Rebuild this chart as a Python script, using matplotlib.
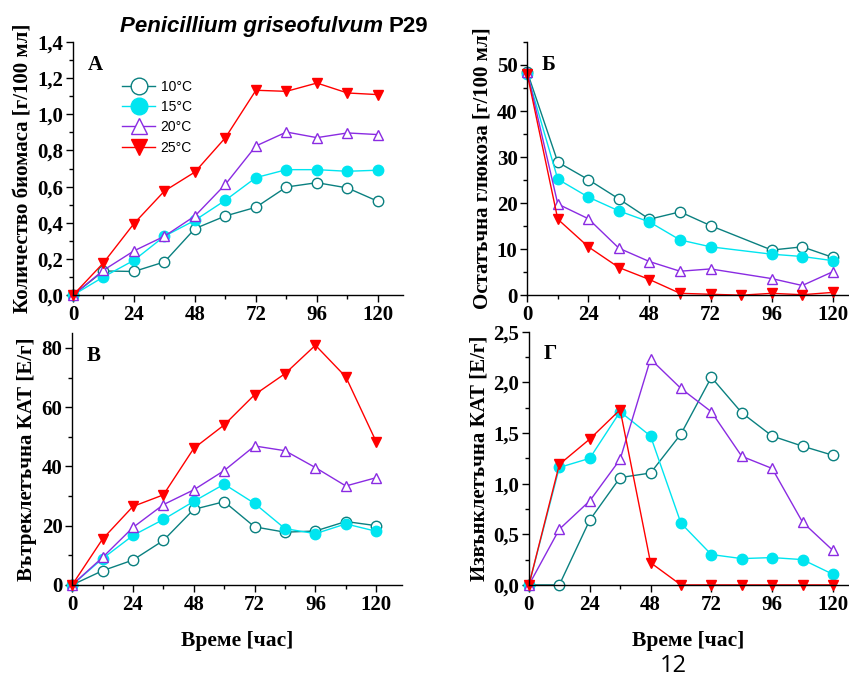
"""Four-panel growth / glucose / catalase chart for Penicillium griseofulvum P29."""

import matplotlib

matplotlib.use("Agg")
import matplotlib.pyplot as plt
from matplotlib.lines import Line2D
from matplotlib.ticker import FuncFormatter, MultipleLocator

SERIF = "Liberation Serif"
SANS = "Liberation Sans"

LABELS = ["10°C", "15°C", "20°C", "25°C"]
COLORS = ["#0a8080", "#00e5f0", "#8a2be2", "#ff0000"]
MARKERS = ["o", "o", "^", "v"]
FILLED = [False, True, False, True]

HOURS = [0, 12, 24, 36, 48, 60, 72, 84, 96, 108, 120]
HOURS_NO84 = [0, 12, 24, 36, 48, 60, 72, 96, 108, 120]

# A: biomass [g/100 ml]
biomass_10 = [0.0, 0.134, 0.131, 0.184, 0.368, 0.438, 0.486, 0.598, 0.622, 0.593, 0.519]
biomass_15 = [0.0, 0.101, 0.193, 0.326, 0.414, 0.525, 0.650, 0.694, 0.694, 0.685, 0.691]
biomass_20 = [0.0, 0.138, 0.245, 0.326, 0.438, 0.613, 0.825, 0.902, 0.871, 0.897, 0.888]
biomass_25 = [0.0, 0.179, 0.396, 0.576, 0.681, 0.871, 1.133, 1.127, 1.173, 1.118, 1.109]

# B: residual glucose [g/100 ml]
glucose_10 = [48.5, 28.9, 25.1, 20.9, 16.5, 18.1, 15.1, 9.8, 10.5, 8.2]
glucose_15 = [48.0, 25.2, 21.3, 18.3, 15.9, 12.0, 10.5, 8.9, 8.4, 7.5]
glucose_20 = [48.5, 19.8, 16.6, 10.2, 7.3, 5.2, 5.7, 3.6, 2.1, 5.1]
glucose_25 = [48.0, 16.5, 10.5, 6.0, 3.4, 0.4, 0.2, 0.0, 0.4, 0.1, 0.6]

# C: intracellular catalase [U/g]
intra_10 = [0.0, 4.8, 8.4, 15.0, 25.5, 28.1, 19.6, 17.8, 18.2, 21.4, 20.0]
intra_15 = [0.0, 8.9, 16.7, 22.1, 28.2, 34.0, 27.5, 19.0, 17.3, 20.6, 18.1]
intra_20 = [0.0, 9.3, 19.4, 27.1, 32.1, 38.6, 46.9, 45.3, 39.6, 33.4, 36.2]
intra_25 = [0.0, 15.5, 26.5, 30.4, 46.1, 54.0, 64.2, 71.3, 80.9, 70.2, 48.3]

# D: extracellular catalase [U/g]
extra_10 = [0.0, 0.0, 0.64, 1.06, 1.105, 1.49, 2.05, 1.70, 1.47, 1.37, 1.28]
extra_15 = [0.0, 1.16, 1.25, 1.71, 1.47, 0.61, 0.30, 0.26, 0.27, 0.25, 0.105]
extra_20 = [0.0, 0.55, 0.83, 1.24, 2.23, 1.94, 1.71, 1.27, 1.15, 0.62, 0.34]
extra_25 = [0.0, 1.19, 1.44, 1.73, 0.22, 0.0, 0.0, 0.0, 0.0, 0.0, 0.0]


def comma_fmt(decimals):
    return FuncFormatter(lambda v, _: f"{v:.{decimals}f}".replace(".", ","))


def draw_series(ax, xs_list, ys_list):
    for xs, ys, color, marker, filled in zip(xs_list, ys_list, COLORS, MARKERS, FILLED):
        ax.plot(
            xs, ys, color=color, lw=1.0, marker=marker, ms=7.5,
            mfc=color if filled else "white", mec=color, mew=1.0, clip_on=False,
        )


def style_axes(ax, ylim, ymajor, yminor, ydec, ylabel, letter, xmax=130, xlabel=None):
    ax.set_xlim(0, xmax)
    ax.set_ylim(*ylim)
    ax.spines["top"].set_visible(False)
    ax.spines["right"].set_visible(False)
    for s in ("left", "bottom"):
        ax.spines[s].set_linewidth(1.0)
    ax.xaxis.set_major_locator(MultipleLocator(24))
    ax.xaxis.set_minor_locator(MultipleLocator(12))
    ax.yaxis.set_major_locator(MultipleLocator(ymajor))
    ax.yaxis.set_minor_locator(MultipleLocator(yminor))
    ax.yaxis.set_major_formatter(comma_fmt(ydec))
    ax.tick_params(which="major", direction="out", length=5, width=1.0, pad=2)
    ax.tick_params(which="minor", direction="out", length=3, width=1.0)
    for lab in ax.get_xticklabels() + ax.get_yticklabels():
        lab.set_fontfamily(SERIF)
        lab.set_fontweight("bold")
        lab.set_fontsize(15)
    ax.set_ylabel(ylabel, fontfamily=SERIF, fontweight="bold", fontsize=15, labelpad=3)
    if xlabel:
        ax.set_xlabel(xlabel, fontfamily=SERIF, fontweight="bold", fontsize=15.5, labelpad=12)
    ax.text(0.045, 0.95, letter, transform=ax.transAxes, fontfamily=SERIF,
            fontweight="bold", fontsize=15, ha="left", va="top")


def main() -> None:
    fig = plt.figure(figsize=(8.49, 6.77), dpi=100)

    ax_a = fig.add_axes([0.086, 0.564, 0.389, 0.374])
    ax_b = fig.add_axes([0.621, 0.564, 0.378, 0.374])
    ax_c = fig.add_axes([0.085, 0.136, 0.388, 0.372])
    ax_d = fig.add_axes([0.623, 0.136, 0.376, 0.374])

    draw_series(ax_a, [HOURS] * 4, [biomass_10, biomass_15, biomass_20, biomass_25])
    style_axes(ax_a, (0, 1.4), 0.2, 0.1, 1, "Количество биомаса [г/100 мл]", "А")

    draw_series(ax_b, [HOURS_NO84, HOURS_NO84, HOURS_NO84, HOURS],
                [glucose_10, glucose_15, glucose_20, glucose_25])
    style_axes(ax_b, (0, 55), 10, 5, 0, "Остатъчна глюкоза [г/100 мл]", "Б", xmax=126)

    draw_series(ax_c, [HOURS] * 4, [intra_10, intra_15, intra_20, intra_25])
    style_axes(ax_c, (0, 85), 20, 10, 0, "Вътреклетъчна КАТ [Е/г]", "В",
               xlabel="Време [час]")

    draw_series(ax_d, [HOURS] * 4, [extra_10, extra_15, extra_20, extra_25])
    style_axes(ax_d, (0, 2.5), 0.5, 0.25, 1, "Извънклетъчна КАТ [Е/г]", "Г",
               xmax=126, xlabel="Време [час]")

    handles = [
        Line2D([], [], color=c, lw=1.0, marker=m, ms=12,
               mfc=c if f else "white", mec=c, mew=1.0)
        for c, m, f in zip(COLORS, MARKERS, FILLED)
    ]
    ax_a.legend(handles, LABELS, loc="upper left", bbox_to_anchor=(0.11, 0.90),
                frameon=False, handlelength=2.4, handletextpad=0.4, labelspacing=0.45,
                prop={"family": SANS, "size": 10})

    title = fig.text(0.141, 0.953, "Penicillium griseofulvum", fontfamily=SANS,
                     fontstyle="italic", fontweight="bold", fontsize=16, va="baseline")
    fig.canvas.draw()
    plt.annotate("P29", xy=(1, 0), xycoords=title, xytext=(4, 0),
                 textcoords="offset points", fontfamily=SANS, fontweight="bold",
                 fontsize=16, va="bottom", ha="left")

    fig.text(0.793, 0.008, "12", fontfamily="Open Sans", fontsize=17, ha="center")

    fig.savefig("out.png", dpi=100)


if __name__ == "__main__":
    main()
